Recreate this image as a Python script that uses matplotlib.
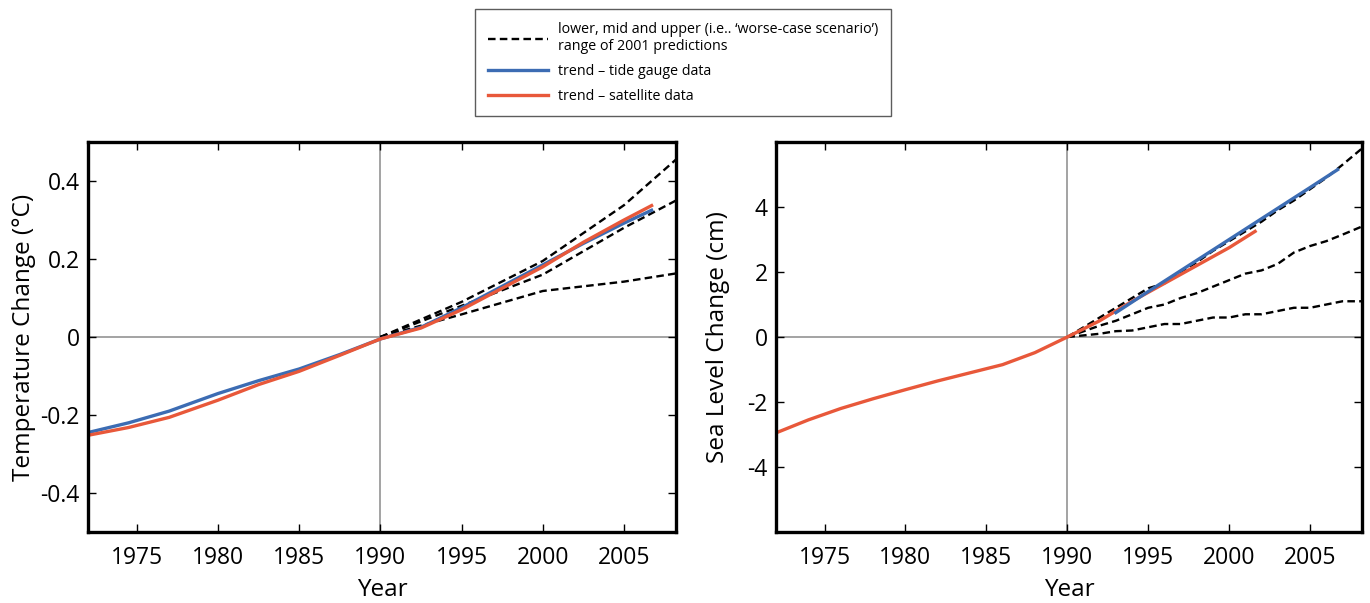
import numpy as np
import matplotlib
matplotlib.use("Agg")
from matplotlib import pyplot as plt
from matplotlib.lines import Line2D

plt.rcParams['font.family'] = ['Open Sans', 'DejaVu Sans']

BLUE = '#3c6cb3'
RED = '#e8583a'
GREY = '#8a8a8a'

# temperature panel
temp_years = [1972, 1974.5, 1977, 1980, 1982.5, 1985, 1987.5, 1990, 1992.5, 1995,
              1997.5, 2000, 2002.5, 2005, 2006.7]
temp_tide = [-0.245, -0.22, -0.19, -0.145, -0.112, -0.082, -0.045, -0.005, 0.025,
             0.075, 0.13, 0.185, 0.24, 0.292, 0.325]
temp_sat = [-0.252, -0.232, -0.206, -0.162, -0.122, -0.088, -0.047, -0.005, 0.023,
            0.07, 0.125, 0.18, 0.243, 0.3, 0.337]
temp_pred_years = [1990, 1995, 2000, 2005, 2008.2]
temp_pred_upper = [0.0, 0.09, 0.195, 0.338, 0.455]
temp_pred_mid = [0.0, 0.08, 0.16, 0.28, 0.35]
temp_pred_lower = [0.0, 0.058, 0.118, 0.142, 0.163]

# sea level panel
sea_sat_years = [1972, 1974, 1976, 1978, 1980, 1982, 1984, 1986, 1988, 1990, 1992,
                 1994, 1996, 1998, 2000, 2001.6]
sea_sat = [-2.95, -2.55, -2.2, -1.9, -1.62, -1.35, -1.1, -0.85, -0.48, 0.0, 0.5,
           1.1, 1.65, 2.2, 2.75, 3.25]
sea_tide_years = [1993, 1995, 2000, 2005, 2006.7]
sea_tide = [0.75, 1.4, 3.0, 4.6, 5.15]
sea_pred_years = [1990, 1992, 1993, 1994, 1995, 1996, 1997, 1998, 1999, 2000, 2001,
                  2002, 2003, 2004, 2005, 2006, 2007, 2008.2]
sea_pred_upper = [0.0, 0.6, 0.9, 1.2, 1.5, 1.65, 2.0, 2.3, 2.65, 2.95, 3.25, 3.55,
                  3.9, 4.2, 4.55, 4.9, 5.3, 5.8]
sea_pred_mid = [0.0, 0.35, 0.5, 0.7, 0.9, 1.0, 1.2, 1.35, 1.55, 1.75, 1.95, 2.05,
                2.25, 2.6, 2.8, 2.95, 3.15, 3.4]
sea_pred_lower = [0.0, 0.1, 0.18, 0.2, 0.3, 0.4, 0.4, 0.5, 0.6, 0.6, 0.7, 0.7,
                  0.8, 0.9, 0.9, 1.0, 1.1, 1.1]

xticks = [1975, 1980, 1985, 1990, 1995, 2000, 2005]

fig = plt.figure(figsize=(13.7, 6.03), dpi=100)
ax1 = fig.add_axes([0.0642, 0.1177, 0.4292, 0.6468])
ax2 = fig.add_axes([0.5664, 0.1177, 0.4277, 0.6468])

dash = dict(color='black', lw=1.7, dashes=(3.2, 1.8))


def style(ax, ylabel, labelx):
    ax.axvline(1990, color=GREY, lw=1.1, zorder=1)
    ax.axhline(0, color=GREY, lw=1.1, zorder=1)
    ax.set_xlim(1972, 2008.2)
    ax.set_xticks(xticks)
    ax.tick_params(direction='in', length=6, width=1, top=True, right=True,
                   labelsize=16.5, colors='black')
    ax.tick_params(axis='x', pad=10)
    ax.tick_params(axis='y', pad=6)
    for s in ax.spines.values():
        s.set_linewidth(2.4)
    ax.set_xlabel('Year', fontsize=17.5)
    ax.xaxis.set_label_coords(0.5, -0.118)
    ax.set_ylabel(ylabel, fontsize=17.5)
    ax.yaxis.set_label_coords(labelx, 0.5)


style(ax1, 'Temperature Change (°C)', -0.088)
ax1.plot(temp_pred_years, temp_pred_upper, **dash)
ax1.plot(temp_pred_years, temp_pred_mid, **dash)
ax1.plot(temp_pred_years, temp_pred_lower, **dash)
ax1.plot(temp_years, temp_tide, color=BLUE, lw=2.4)
ax1.plot(temp_years, temp_sat, color=RED, lw=2.4)
ax1.set_ylim(-0.5, 0.5)
ax1.set_yticks([-0.4, -0.2, 0, 0.2, 0.4])
ax1.set_yticklabels(['-0.4', '-0.2', '0', '0.2', '0.4'])

style(ax2, 'Sea Level Change (cm)', -0.079)
ax2.plot(sea_pred_years, sea_pred_upper, **dash)
ax2.plot(sea_pred_years, sea_pred_mid, **dash)
ax2.plot(sea_pred_years, sea_pred_lower, **dash)
ax2.plot(sea_sat_years, sea_sat, color=RED, lw=2.4)
ax2.plot(sea_tide_years, sea_tide, color=BLUE, lw=2.4)
ax2.set_ylim(-6, 6)
ax2.set_yticks([-4, -2, 0, 2, 4])
ax2.set_yticklabels(['-4', '-2', '0', '2', '4'])

handles = [Line2D([], [], **dash),
           Line2D([], [], color=BLUE, lw=2.4),
           Line2D([], [], color=RED, lw=2.4)]
labels = ["lower, mid and upper (i.e.. \u2018worse-case scenario\u2019)\nrange of 2001 predictions",
          'trend \u2013 tide gauge data',
          'trend \u2013 satellite data']
leg = fig.legend(handles, labels, loc='upper left', bbox_to_anchor=(0.347, 0.985),
                 fontsize=10.3, handlelength=4.2, handletextpad=0.7, labelspacing=0.68,
                 borderpad=0.9, fancybox=False, frameon=True, borderaxespad=0)
leg.get_frame().set_edgecolor('#333333')
leg.get_frame().set_linewidth(1.0)

fig.savefig('out.png', dpi=100)
